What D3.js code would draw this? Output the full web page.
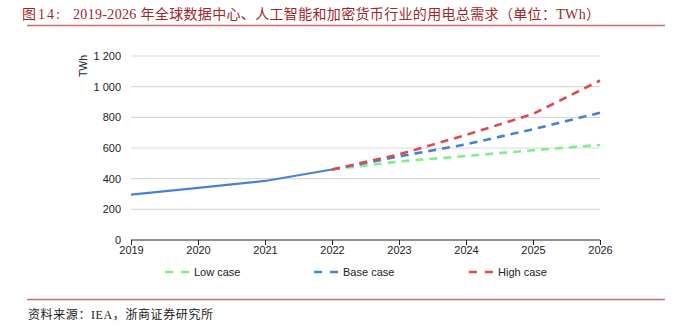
<!DOCTYPE html>
<html><head><meta charset="utf-8">
<script src="https://cdn.jsdelivr.net/npm/d3@7"></script>
<style>body{margin:0;background:#fff}svg{display:block}</style>
</head><body>
<script>
const years = [2019, 2020, 2021, 2022, 2023, 2024, 2025, 2026];
const histYears = [2019, 2020, 2021, 2022];
const histValues = [296, 340, 385, 460];
const projYears = [2022, 2023, 2024, 2025, 2026];
const lowValues = [460, 512, 548, 585, 620];
const baseValues = [460, 545, 624, 722, 830];
const highValues = [460, 558, 685, 822, 1040];
const yTicks = [0, 200, 400, 600, 800, 1000, 1200];
const seriesNames = ["Low case", "Base case", "High case"];
const seriesColors = ["#7fef8e", "#4a7fd6", "#e2474b"];

const W = 681, H = 331;
const svg = d3.select("body").append("svg").attr("width", W).attr("height", H);

const serif = "'Liberation Serif','Noto Sans CJK SC',serif";
// title
svg.append("text").attr("x", 22).attr("y", 18.5)
  .attr("font-family", serif).attr("font-size", 14).attr("fill", "#a1262c")
  .attr("textLength", 38).attr("lengthAdjust", "spacing")
  .text("图14:");
svg.append("text").attr("x", 73).attr("y", 18.5)
  .attr("font-family", serif).attr("font-size", 14).attr("fill", "#a1262c")
  .attr("textLength", 527).attr("lengthAdjust", "spacing")
  .text("2019-2026 年全球数据中心、人工智能和加密货币行业的用电总需求（单位：TWh）");
svg.append("line").attr("x1", 27).attr("x2", 665).attr("y1", 25.5).attr("y2", 25.5)
  .attr("stroke", "#d0696b").attr("stroke-width", 1.6);
svg.append("line").attr("x1", 27).attr("x2", 665).attr("y1", 299.5).attr("y2", 299.5)
  .attr("stroke", "#d0696b").attr("stroke-width", 1.6);
svg.append("text").attr("x", 28).attr("y", 318.5)
  .attr("font-family", serif).attr("font-size", 12).attr("fill", "#222")
  .attr("textLength", 185).attr("lengthAdjust", "spacing")
  .text("资料来源：IEA，浙商证券研究所");

const x = d3.scaleLinear().domain([2019, 2026]).range([131, 600]);
const y = d3.scaleLinear().domain([0, 1200]).range([240, 56]);

const fmt = v => d3.format(",")(v).replace(/,/g, " ");

// grid
svg.append("g").selectAll("line").data(yTicks.filter(d => d > 0)).join("line")
  .attr("x1", 131).attr("x2", 600)
  .attr("y1", d => y(d)).attr("y2", d => y(d))
  .attr("stroke", "#d9d9d9").attr("stroke-width", 1.2);

// y axis labels
const yAxis = d3.axisLeft(y).tickValues(yTicks).tickSize(0).tickPadding(10).tickFormat(fmt);
const gy = svg.append("g").attr("transform", "translate(131,0)").call(yAxis);
gy.select(".domain").remove();
gy.selectAll("text").attr("font-family", "'Liberation Sans',Arial,sans-serif").attr("font-size", 11).attr("fill", "#222");

// x axis
const xAxis = d3.axisBottom(x).tickValues(years).tickSize(5).tickPadding(1).tickFormat(d3.format("d"));
const gx = svg.append("g").attr("transform", "translate(0,240)").call(xAxis);
gx.select(".domain").attr("stroke", "#222").attr("d", "M131,0H600");
gx.selectAll(".tick line").attr("stroke", "#222");
gx.selectAll("text").attr("font-family", "'Liberation Sans',Arial,sans-serif").attr("font-size", 11).attr("fill", "#222");

// y title
svg.append("text").attr("transform", "translate(87,66) rotate(-90)")
  .attr("text-anchor", "middle")
  .attr("font-family", "'Liberation Sans',Arial,sans-serif").attr("font-size", 10.5).attr("fill", "#222")
  .text("TWh");

const line = d3.line().x(d => x(d[0])).y(d => y(d[1]));

const projSeries = [lowValues, baseValues, highValues];
projSeries.forEach((vals, i) => {
  svg.append("path").datum(projYears.map((yr, j) => [yr, vals[j]]))
    .attr("d", line).attr("fill", "none")
    .attr("stroke", seriesColors[i]).attr("stroke-width", 2.6)
    .attr("stroke-dasharray", "8,6");
});
svg.append("path").datum(histYears.map((yr, j) => [yr, histValues[j]]))
  .attr("d", line).attr("fill", "none")
  .attr("stroke", seriesColors[1]).attr("stroke-width", 2.2);

// legend
const legX = [165, 314, 469];
seriesNames.forEach((n, i) => {
  const g = svg.append("g").attr("transform", `translate(${legX[i]},272)`);
  g.append("line").attr("x1", 0).attr("x2", 24).attr("y1", 0).attr("y2", 0)
    .attr("stroke", seriesColors[i]).attr("stroke-width", 2.6).attr("stroke-dasharray", "8,8");
  g.append("text").attr("x", 29).attr("y", 4)
    .attr("font-family", "'Liberation Sans',Arial,sans-serif").attr("font-size", 11).attr("fill", "#222")
    .text(n);
});
</script>
</body></html>
